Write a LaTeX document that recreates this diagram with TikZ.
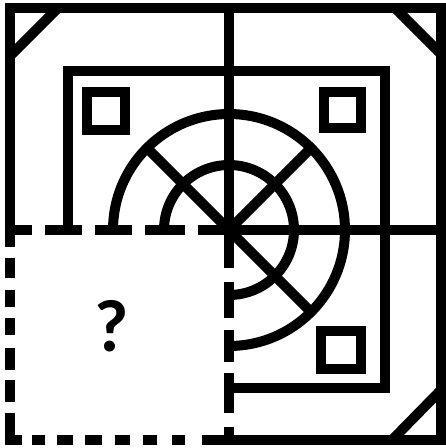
\documentclass[tikz,border=0pt]{standalone}
\usepackage{fontspec}
\setmainfont{Carlito}
\begin{document}
\begin{tikzpicture}[x=1pt,y=-1pt,
  fig/.style={line width=10pt, line cap=butt, line join=miter},
  qmark/.style={font=\bfseries\fontsize{74}{74}\selectfont, inner sep=0pt}]
\useasboundingbox (0,0) rectangle (446,448);
\coordinate (c) at (229,230);
% outer border
\draw[fig] (10,230) -- (10,8) -- (441,8) -- (441,440) -- (225,440);
% corner diagonals
\draw[fig] (58,8) -- (10,56);
\draw[fig] (395,8) -- (441,54);
\draw[fig] (441,390) -- (392,440);
% centre lines
\draw[fig] (229,8) -- (c) -- (441,230);
% inner square
\draw[fig] (68,230) -- (68,71) -- (385,71) -- (385,388) -- (229,388);
% small squares
\draw[fig] (87,92) rectangle (125,130);
\draw[fig] (324,92) rectangle (361,128);
\draw[fig] (321,331) rectangle (361,369);
% arcs
\draw[fig] (113,230) arc[start angle=180, end angle=450, radius=116];
\draw[fig] (164,230) arc[start angle=180, end angle=450, radius=65];
% diagonals
\draw[fig] (c) -- +(-83,-83);
\draw[fig] (c) -- +(83,-83);
\draw[fig] (c) -- +(83,83);
% dashed box (top, left, bottom, right edges)
\draw[fig] (10,247) -- (10,230) -- (32,230);
\foreach \a/\b in {45/82, 95/132, 145/185, 198/234}
  \draw[fig] (\a,230) -- (\b,230);
\foreach \a/\b in {258/278, 290/307, 318/335, 348/370, 380/402}
  \draw[fig] (10,\a) -- (10,\b);
\draw[fig] (10,413) -- (10,440) -- (22,440);
\foreach \a/\b in {32/45, 57/73, 85/102, 115/130, 143/157, 172/185, 202/234}
  \draw[fig] (\a,440) -- (\b,440);
\foreach \a/\b in {225/268, 282/318, 330/362, 373/413, 427/445}
  \draw[fig] (229,\a) -- (229,\b);
\node[qmark] (q) at (112,326) {?};
\end{tikzpicture}
\end{document}
